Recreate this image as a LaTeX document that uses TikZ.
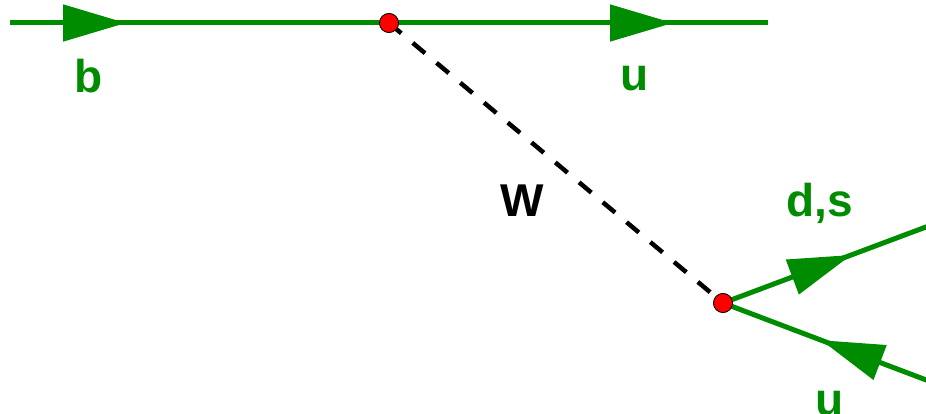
\documentclass[tikz,border=0pt]{standalone}
\usepackage{fontspec}
\setmainfont{Liberation Sans}
\usetikzlibrary{arrows.meta,decorations.markings}
\definecolor{fgreen}{RGB}{0,140,0}
\tikzset{
  fermion/.style={draw=fgreen, line width=5pt},
  tipmark/.style={postaction={decorate,decoration={markings,
     mark=at position #1 with {\arrow[fgreen]{Triangle[length=63pt,width=36pt]}}}}},
  rtipmark/.style={postaction={decorate,decoration={markings,
     mark=at position #1 with {\arrowreversed[fgreen]{Triangle[length=63pt,width=36pt]}}}}},
  boson/.style={draw=black, line width=4.5pt, dash pattern=on 16pt off 15pt},
  vtx/.style={circle, fill=red, draw=black, line width=0.7pt, minimum size=19pt, inner sep=0pt},
  lbl/.style={font=\fontsize{46}{46}\selectfont\bfseries, anchor=base, inner sep=0pt},
}
\begin{document}
\begin{tikzpicture}[x=1pt,y=-1pt]
\useasboundingbox (0,0) rectangle (926,414);
\clip (0,0) rectangle (926,414);
\coordinate (bin) at (10,23);
\coordinate (uout) at (768,23);
\coordinate (dsout) at (950,218);
\coordinate (uin) at (950,389);
\node[vtx] (v1) at (389,23) {};
\node[vtx] (v2) at (723,303) {};
\draw[boson] (v1.center) -- (v2.center);
\draw[fermion, tipmark=116pt] (bin) -- (v1.center);
\draw[fermion, tipmark=284pt] (v1.center) -- (uout);
\draw[fermion, tipmark=137pt] (v2.center) -- (dsout);
\draw[fermion, rtipmark=105pt] (v2.center) -- (uin);
\node[vtx] at (v1) {};
\node[vtx] at (v2) {};
\node[lbl, text=fgreen] (lb) at (89,93) {b};
\node[lbl, text=fgreen] (lu1) at (635,91) {u};
\node[lbl, text=black] (lw) at (522,216) {W};
\node[lbl, text=fgreen] (lds) at (820,217) {d,s};
\node[lbl, text=fgreen] (lu2) at (830,415) {u};
\end{tikzpicture}
\end{document}
